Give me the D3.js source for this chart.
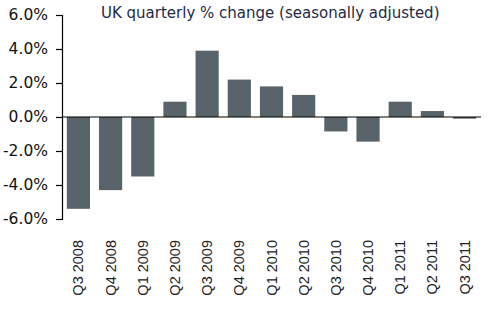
<!DOCTYPE html>
<html><head><meta charset="utf-8">
<script src="https://cdn.jsdelivr.net/npm/d3@7"></script>
<style>body{margin:0;background:#fff}</style>
</head><body><svg id="c" width="499" height="323"></svg>
<script>
const categories = ["Q3 2008","Q4 2008","Q1 2009","Q2 2009","Q3 2009","Q4 2009","Q1 2010","Q2 2010","Q3 2010","Q4 2010","Q1 2011","Q2 2011","Q3 2011"];
const values = [-5.4,-4.3,-3.5,0.9,3.9,2.2,1.8,1.3,-0.85,-1.45,0.9,0.35,-0.1];
const yTicks = [-6,-4,-2,0,2,4,6];
const title = "UK quarterly % change (seasonally adjusted)";

const svg = d3.select("#c");
const x = d3.scaleBand().domain(categories).range([62,481]).paddingInner(0.28).paddingOuter(0.15);
const y = d3.scaleLinear().domain([-6,6]).range([219,15]);

svg.append("g").selectAll("rect").data(values).join("rect")
  .attr("x",(d,i)=>x(categories[i])).attr("width",x.bandwidth())
  .attr("y",d=>y(Math.max(0,d))).attr("height",d=>Math.abs(y(d)-y(0)))
  .attr("fill","#59646a");

const ya = svg.append("g").attr("transform","translate(62,0)")
  .call(d3.axisLeft(y).tickValues(yTicks).tickFormat(d=>(d<0?"-":"")+Math.abs(d).toFixed(1)+"%").tickSize(6).tickPadding(8));
ya.select(".domain").attr("stroke","#000").attr("stroke-width",1.2);
ya.selectAll(".tick line").attr("stroke","#000").attr("stroke-width",1.2);
ya.selectAll("text").attr("font-family","DejaVu Sans").attr("font-size",15.5).attr("fill","#111");

const xa = svg.append("g").attr("transform",`translate(0,${y(0)})`)
  .call(d3.axisBottom(x).tickSize(0).tickPadding(0));
xa.select(".domain").attr("stroke","#000").attr("stroke-width",1.2).attr("d","M62,0H481");
xa.selectAll(".tick text")
  .attr("font-family","Liberation Sans").attr("font-size",14.5).attr("fill","#222")
  .attr("text-anchor","end").attr("dy","0.35em")
  .attr("transform",`translate(0,${240-y(0)}) rotate(-90)`).attr("y",0).attr("x",0);

svg.append("text").attr("x",101).attr("y",18).text(title)
  .attr("font-family","DejaVu Sans").attr("font-size",15).attr("fill","#1e2a48");
</script></body></html>
